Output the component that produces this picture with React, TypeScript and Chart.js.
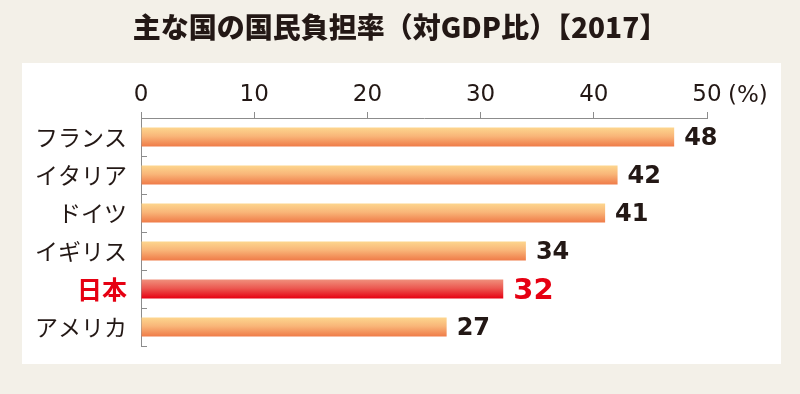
import React, { useEffect, useRef } from "react";
import { Chart, registerables } from "chart.js";

Chart.register(...registerables);

const TITLE = "主な国の国民負担率（対GDP比）【2017】";
const categories = ["フランス", "イタリア", "ドイツ", "イギリス", "日本", "アメリカ"];
const barValues = [47.1, 42.1, 41.0, 34.0, 32.0, 27.0];
const valueLabels = ["48", "42", "41", "34", "32", "27"];
const highlight = "日本";
const xTicks = [0, 10, 20, 30, 40, 50];
const unitLabel = "(%)";

const DARK = "#231815";
const RED = "#e60012";
const AXIS = "#8c8c8c";

const decorPlugin = {
  id: "decor",
  beforeDraw(chart: any) {
    const { ctx, width, height } = chart;
    ctx.save();
    ctx.fillStyle = "#f3f0e8";
    ctx.fillRect(0, 0, width, height);
    ctx.fillStyle = "#ffffff";
    ctx.fillRect(22, 63, 759, 301);
    ctx.fillStyle = DARK;
    ctx.font = "900 28px 'Noto Sans CJK JP'";
    ctx.textAlign = "center";
    ctx.textBaseline = "middle";
    ctx.fillText(TITLE, 400, 27);
    ctx.restore();
  },
  afterDraw(chart: any) {
    const { ctx } = chart;
    const xs = chart.scales.x;
    const ys = chart.scales.y;
    ctx.save();
    ctx.strokeStyle = AXIS;
    ctx.lineWidth = 1;
    const n = categories.length;
    const step = (ys.bottom - ys.top) / n;
    for (let i = 1; i <= n; i++) {
      const y = Math.round(ys.top + i * step) + 0.5;
      ctx.beginPath();
      ctx.moveTo(xs.left, y);
      ctx.lineTo(xs.left + 6, y);
      ctx.stroke();
    }
    ctx.fillStyle = DARK;
    ctx.font = "23px 'DejaVu Sans'";
    ctx.textAlign = "left";
    ctx.textBaseline = "middle";
    ctx.fillText(unitLabel, xs.getPixelForValue(xTicks[xTicks.length - 1]) + 21, 96);
    const meta = chart.getDatasetMeta(0);
    meta.data.forEach((bar: any, i: number) => {
      const isHi = categories[i] === highlight;
      ctx.fillStyle = isHi ? RED : DARK;
      ctx.font = isHi ? "bold 29px 'DejaVu Sans'" : "bold 24px 'DejaVu Sans'";
      ctx.textAlign = "left";
      ctx.textBaseline = "middle";
      ctx.fillText(valueLabels[i], bar.x + 10, bar.y + 2);
    });
    ctx.restore();
  },
};

export default function App() {
  const ref = useRef<HTMLCanvasElement>(null);
  useEffect(() => {
    if (!ref.current) return;
    const chart = new Chart(ref.current, {
      type: "bar",
      data: {
        labels: categories,
        datasets: [
          {
            data: barValues,
            borderWidth: 0,
            categoryPercentage: 1,
            barPercentage: 0.5,
            backgroundColor: (c: any) => {
              const isHi = categories[c.dataIndex] === highlight;
              const ch = c.chart;
              const ys = ch.scales?.y;
              if (!ys || c.dataIndex === undefined) return isHi ? RED : "#f5a56a";
              const cy = ys.getPixelForValue(c.dataIndex);
              const half = (ys.bottom - ys.top) / categories.length / 4;
              if (!isFinite(cy) || !isFinite(half) || half <= 0) return isHi ? RED : "#f5a56a";
              const g = ch.ctx.createLinearGradient(0, cy - half, 0, cy + half);
              if (isHi) {
                g.addColorStop(0, "#f0907c");
                g.addColorStop(0.45, "#ec5a52");
                g.addColorStop(1, "#e60012");
              } else {
                g.addColorStop(0, "#fdd68e");
                g.addColorStop(0.45, "#f9b679");
                g.addColorStop(1, "#ef7b48");
              }
              return g;
            },
          },
        ],
      },
      options: {
        responsive: false,
        animation: false,
        indexAxis: "y",
        layout: { padding: { left: 0, top: 0, right: 93, bottom: 48 } },
        plugins: { legend: { display: false }, tooltip: { enabled: false }, title: { display: false } },
        scales: {
          x: {
            position: "top",
            min: 0,
            max: 50,
            afterFit: (s: any) => {
              s.height = 118;
            },
            afterBuildTicks: (s: any) => {
              s.ticks = xTicks.map((v) => ({ value: v }));
            },
            grid: { drawOnChartArea: false, drawTicks: true, tickLength: 6, color: AXIS, lineWidth: 1 },
            border: { display: true, color: AXIS, width: 1 },
            ticks: {
              color: DARK,
              font: { family: "'DejaVu Sans'", size: 23 },
              padding: 3,
              maxRotation: 0,
            },
          },
          y: {
            afterFit: (s: any) => {
              s.width = 141;
            },
            grid: { display: false, drawTicks: false },
            border: { display: true, color: AXIS, width: 1 },
            ticks: {
              padding: 14,
              color: (c: any) => (categories[c.index] === highlight ? RED : DARK),
              font: (c: any) => ({
                family: "'Noto Sans CJK JP'",
                size: categories[c.index] === highlight ? 25 : 23,
                weight: categories[c.index] === highlight ? "bold" : "normal",
              }),
            },
          },
        },
      },
      plugins: [decorPlugin],
    } as any);
    return () => chart.destroy();
  }, []);
  return (
    <canvas
      ref={ref}
      width={800}
      height={394}
      style={{ position: "absolute", left: 0, top: 0, display: "block", width: 800, height: 394 }}
    />
  );
}
